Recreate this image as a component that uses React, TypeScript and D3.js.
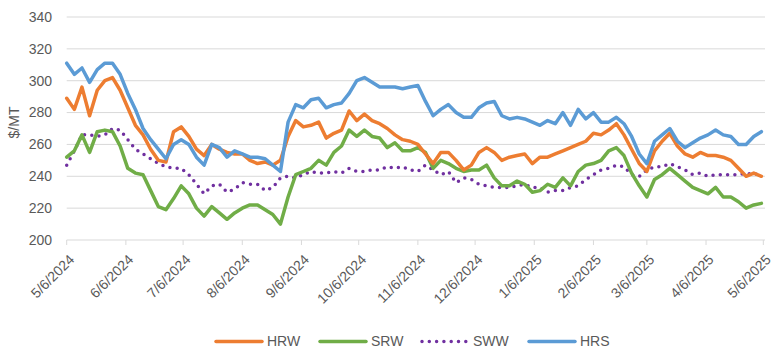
import React from "react";
import * as d3 from "d3";

// Sampling dates: every 4 days from 5/6/2024 to 5/5/2025 (92 points)
const dates: Date[] = d3.timeDay.range(new Date(2024, 4, 6), new Date(2025, 4, 7), 4);

const HRW = [289,282,296,278,294,300,302,294,283,272,266,257,250,249,268,271,265,257,253,260,257,255,254,254,250,248,249,247,250,265,275,271,272,274,264,267,269,281,275,279,275,273,270,266,263,262,260,254,248,255,255,250,244,247,255,258,255,250,252,253,254,248,252,252,254,256,258,260,262,267,266,269,273,266,257,248,243,256,262,267,259,254,252,255,253,253,252,250,245,240,242,240];
const SRW = [252,256,266,255,268,269,268,259,245,242,241,231,221,219,226,234,229,220,215,221,217,213,217,220,222,222,219,216,210,227,241,243,245,250,247,255,259,269,265,269,265,264,258,261,256,256,258,255,245,250,248,245,243,244,244,247,239,234,234,237,235,230,231,235,233,239,234,243,247,248,250,256,258,253,242,234,227,238,241,245,241,237,233,231,229,233,227,227,224,220,222,223];
const SWW = [247,256,266,266,265,266,270,269,263,257,254,251,248,246,245,245,241,235,229,234,235,230,232,236,235,235,231,233,239,240,239,241,243,242,242,243,242,245,243,243,244,244,246,245,246,244,243,247,244,241,243,236,239,238,235,234,233,233,233,234,235,233,233,230,231,231,233,234,238,241,244,245,247,246,241,240,244,246,246,248,246,244,241,242,240,241,241,241,241,242,241,242];
const HRS = [311,304,308,299,307,311,311,304,292,282,270,263,257,251,260,263,260,252,247,260,258,252,256,254,252,252,251,247,243,274,285,283,288,289,283,285,286,292,300,302,299,296,296,296,295,296,297,287,278,282,285,280,277,277,283,286,287,278,276,277,276,274,272,275,273,280,272,282,276,280,274,274,277,273,265,254,248,262,266,270,262,258,261,264,266,269,266,265,260,260,265,268];

const yTicks = [200, 220, 240, 260, 280, 300, 320, 340];
const xTickDates: Date[] = d3.timeMonth.range(new Date(2024, 4, 1), new Date(2025, 5, 1)).map((m) => new Date(m.getFullYear(), m.getMonth(), 6));

const seriesList = [
  { name: "HRW", values: HRW, color: "#ED7D31", dotted: false },
  { name: "SRW", values: SRW, color: "#70AD47", dotted: false },
  { name: "SWW", values: SWW, color: "#7030A0", dotted: true },
  { name: "HRS", values: HRS, color: "#5B9BD5", dotted: false },
];
const drawOrder = ["SWW", "SRW", "HRW", "HRS"];
const legendX = [216, 320, 422, 529];

const W = 776, H = 355;
const left = 66.7, right = 763.3, top = 17, bottom = 240;

export default function App() {
  const x = d3.scaleTime().domain([new Date(2024, 4, 6), new Date(2025, 4, 6)]).range([left, right]);
  const y = d3.scaleLinear().domain([200, 340]).range([bottom, top]);
  const line = d3.line<number>().x((_, i) => x(dates[i])).y((v) => y(v)).curve(d3.curveLinear);
  const fmt = (d: Date) => `${d.getMonth() + 1}/${d.getDate()}/${d.getFullYear()}`;
  const font = "'Liberation Sans', Arial, Helvetica, sans-serif";
  return (
    <div style={{ position: "fixed", left: 0, top: 0 }}>
      <svg width={W} height={H} style={{ display: "block", background: "#fff" }} fontFamily={font}>
        {yTicks.map((t) => (
          <g key={t}>
            <line x1={left} x2={765} y1={y(t)} y2={y(t)} stroke="#d9d9d9" strokeWidth={1} />
            <text x={52} y={y(t)} dy="0.35em" textAnchor="end" fontSize={14} fill="#595959">{t}</text>
          </g>
        ))}
        {xTickDates.map((d, i) => (
          <g key={i}>
            <line x1={x(d)} x2={x(d)} y1={bottom} y2={bottom + 5} stroke="#d9d9d9" strokeWidth={1} />
            <text transform={`translate(${x(d) + 5},${bottom + 17}) rotate(-45)`} textAnchor="end" dy="0.35em" fontSize={14} fill="#595959">{fmt(d)}</text>
          </g>
        ))}
        <text transform={`translate(14,${(top + bottom) / 2 - 6}) rotate(-90)`} textAnchor="middle" dy="0.35em" fontSize={14} fill="#595959">$/MT</text>
        {drawOrder.map((n) => {
          const s = seriesList.find((q) => q.name === n)!;
          return (
            <path key={n} d={line(s.values) || ""} fill="none" stroke={s.color} strokeWidth={s.dotted ? 3.5 : 3.5}
              strokeLinejoin="round" strokeLinecap="round" strokeDasharray={s.dotted ? "0 7.3" : undefined} />
          );
        })}
        {seriesList.map((s, i) => (
          <g key={s.name}>
            <line x1={legendX[i]} x2={legendX[i] + 46} y1={341.5} y2={341.5} stroke={s.color} strokeWidth={3.5}
              strokeLinecap="round" strokeDasharray={s.dotted ? "0 7.3" : undefined} />
            <text x={legendX[i] + 51} y={341.5} dy="0.35em" fontSize={14} fill="#595959">{s.name}</text>
          </g>
        ))}
      </svg>
    </div>
  );
}
